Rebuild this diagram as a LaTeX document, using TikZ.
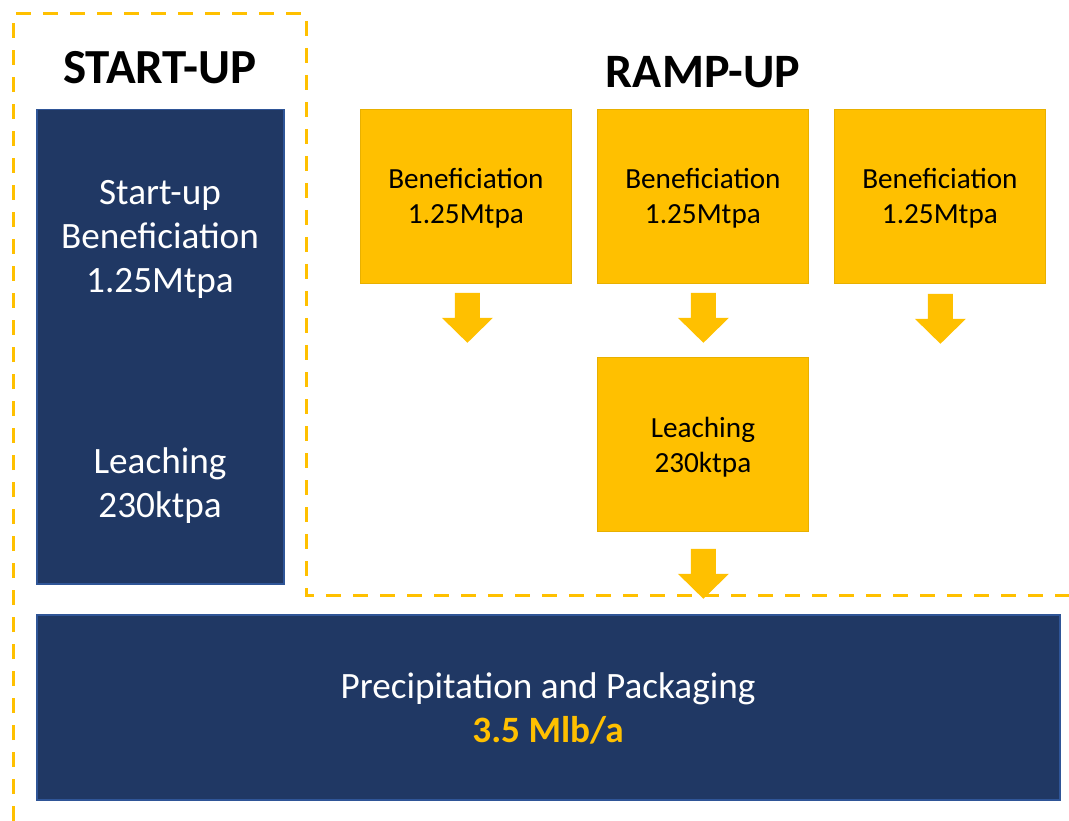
\documentclass[tikz,border=0pt]{standalone}
\usepackage{fontspec}
\setmainfont{Carlito}
\usetikzlibrary{calc}
\definecolor{navy}{HTML}{203864}
\definecolor{navyedge}{HTML}{2F5597}
\definecolor{gold}{HTML}{FFC000}
\definecolor{goldedge}{HTML}{E8B000}
\tikzset{
  darkbox/.style={draw=navyedge, line width=1.5pt, fill=navy, inner sep=0pt, anchor=north west},
  goldbox/.style={draw=goldedge, line width=0.8pt, fill=gold, inner sep=0pt, anchor=north west,
    minimum width=211pt, minimum height=174pt},
  whitetext/.style={text=white, align=center, font=\fontsize{37.2}{44}\selectfont, inner sep=0pt},
  goldtext/.style={text=black, align=center, font=\fontsize{29.2}{35}\selectfont, inner sep=0pt},
  heading/.style={font=\bfseries\fontsize{49}{58}\selectfont, inner sep=0pt},
  boundary/.style={draw=gold, line width=3pt, dash pattern=on 15pt off 12pt},
  downarrow/.pic={\fill[gold] (-12.5,0) -- (12.5,0) -- (12.5,25) -- (25.5,25) -- (0,50)
     -- (-25.5,25) -- (-12.5,25) -- cycle;}
}
\begin{document}
\begin{tikzpicture}[x=1pt, y=-1pt]
\useasboundingbox (0,0) rectangle (1069,821);

% start-up / ramp-up boundary
\draw[boundary] (13,821) -- (13,14) -- (306,14) -- (306,595) -- (1069,595);

% headings
\node[heading] (hstart) at (160,68) {START-UP};
\node[heading, font=\bfseries\fontsize{48}{58}\selectfont] (hramp) at (703,72) {RAMP-UP};

% start-up column
\node[darkbox, minimum width=247pt, minimum height=474pt] (startup) at (36,109) {};
\node[whitetext] (suben) at (160,239) {Start-up\\Beneficiation\\1.25Mtpa};
\node[whitetext] (suleach) at (160,486) {Leaching\\230ktpa};

% ramp-up modules
\node[goldbox] (ben1) at (360,109) {};
\node[goldbox] (ben2) at (597,109) {};
\node[goldbox] (ben3) at (834,109) {};
\node[goldbox] (leach) at (597,357) {};
\node[goldtext] at (ben1.center) [yshift=-2pt] {Beneficiation\\1.25Mtpa};
\node[goldtext] at (ben2.center) [yshift=-2pt] {Beneficiation\\1.25Mtpa};
\node[goldtext] at (ben3.center) [yshift=-2pt] {Beneficiation\\1.25Mtpa};
\node[goldtext] at (leach.center) [yshift=-3pt] {Leaching\\230ktpa};

% flow arrows
\pic at ($(ben1.south)+(1.5,9)$) {downarrow};
\pic at ($(ben2.south)+(0.5,9)$) {downarrow};
\pic at ($(ben3.south)+(0.5,10)$) {downarrow};
\pic at ($(leach.south)+(0.5,17)$) {downarrow};

% downstream stage
\node[darkbox, minimum width=1023pt, minimum height=185pt] (precip) at (36,614) {};
\node[whitetext] (ptext) at (548,708) {Precipitation and Packaging\\\textcolor{gold}{\bfseries 3.5 Mlb/a}};
\end{tikzpicture}
\end{document}
